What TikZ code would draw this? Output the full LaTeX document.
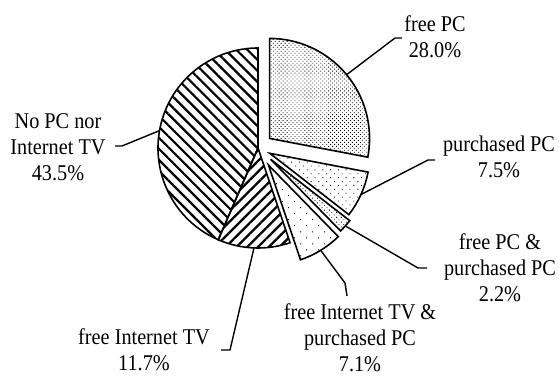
\documentclass[tikz,border=0pt]{standalone}
\usepackage{fontspec}
\setmainfont{Liberation Serif}
\usetikzlibrary{patterns.meta}
\begin{document}
\begin{tikzpicture}[x=1pt,y=1pt,
  slice/.style={draw=black, line width=1.6pt, line join=miter},
  lbl/.style={align=center, anchor=base, font=\fontsize{22.5}{26}\selectfont, inner sep=0pt, xscale=0.9, transform shape},
  lead/.style={line width=1.4pt, line join=round}]
\useasboundingbox (0,0) rectangle (559,376);
\coordinate (c) at (258,228);
\coordinate (c1) at ([shift={(39.6:15)}]c);
\coordinate (c2) at ([shift={(-24.3:13)}]c);
\coordinate (c3) at ([shift={(-41.75:17)}]c);
\coordinate (c4) at ([shift={(-58.5:20)}]c);
% slices
\draw[slice, pattern={Lines[angle=-45,distance=7.8pt,line width=2.2pt]}]
  (c) -- ++(-113.4:100) arc[start angle=-113.4,end angle=-270,radius=100] -- cycle;
\draw[slice, pattern={Lines[angle=45,distance=7.6pt,line width=2.2pt]}]
  (c) -- ++(-71.3:100) arc[start angle=-71.3,end angle=-113.4,radius=100] -- cycle;
\draw[slice, pattern={Dots[distance=2.8pt,radius=0.6pt,angle=45]}]
  (c1) -- ++(90:100) arc[start angle=90,end angle=-10.8,radius=100] -- cycle;
\draw[slice, pattern={Dots[distance=5.5pt,radius=0.65pt,angle=45]}]
  (c2) -- ++(-10.8:100) arc[start angle=-10.8,end angle=-37.8,radius=100] -- cycle;
\draw[slice, pattern={Dots[distance=3.4pt,radius=0.6pt,angle=45]}]
  (c3) -- ++(-37.8:100) arc[start angle=-37.8,end angle=-45.7,radius=100] -- cycle;
\draw[slice, pattern={Dots[distance=8.5pt,radius=0.7pt,angle=45]}]
  (c4) -- ++(-45.7:100) arc[start angle=-45.7,end angle=-71.3,radius=100] -- cycle;
% leader points on the pie
\coordinate (p1) at ([shift={(39.6:100)}]c1);
\coordinate (p2) at ([shift={(-24.3:100)}]c2);
\coordinate (p3) at ([shift={(-41.75:100)}]c3);
\coordinate (p4) at ([shift={(-58.5:100)}]c4);
\coordinate (p5) at ([shift={(-92.3:100)}]c);
\coordinate (p6) at ([shift={(170:100)}]c);
% labels (anchored at the baseline of their last line)
\node[lbl] (l1) at (435,319) {free PC\\28.0\%};
\node[lbl] (l2) at (499,199) {purchased PC\\7.5\%};
\node[lbl] (l3) at (500,75) {free PC \&\\purchased PC\\2.2\%};
\node[lbl] (l4) at (360,5) {free Internet TV \&\\purchased PC\\7.1\%};
\node[lbl] (l5) at (144,6) {free Internet TV\\11.7\%};
\node[lbl] (l6) at (58,196) {No PC nor\\Internet TV\\43.5\%};
% leader knees and ends
\coordinate (k1) at (395,338); \coordinate (e1) at (402,338);
\coordinate (k2) at (428,216); \coordinate (e2) at (435,216);
\coordinate (k3) at (418,108); \coordinate (e3) at (427,108);
\coordinate (k4) at (345,93);  \coordinate (e4) at (347,80);
\coordinate (k5) at (230,26);  \coordinate (e5) at (221,26);
\coordinate (k6) at (122,230); \coordinate (e6) at (115,230);
\draw[lead] (p1) -- (k1) -- (e1);
\draw[lead] (p2) -- (k2) -- (e2);
\draw[lead] (p3) -- (k3) -- (e3);
\draw[lead] (p4) -- (k4) -- (e4);
\draw[lead] (p5) -- (k5) -- (e5);
\draw[lead] (p6) -- (k6) -- (e6);
\end{tikzpicture}
\end{document}
